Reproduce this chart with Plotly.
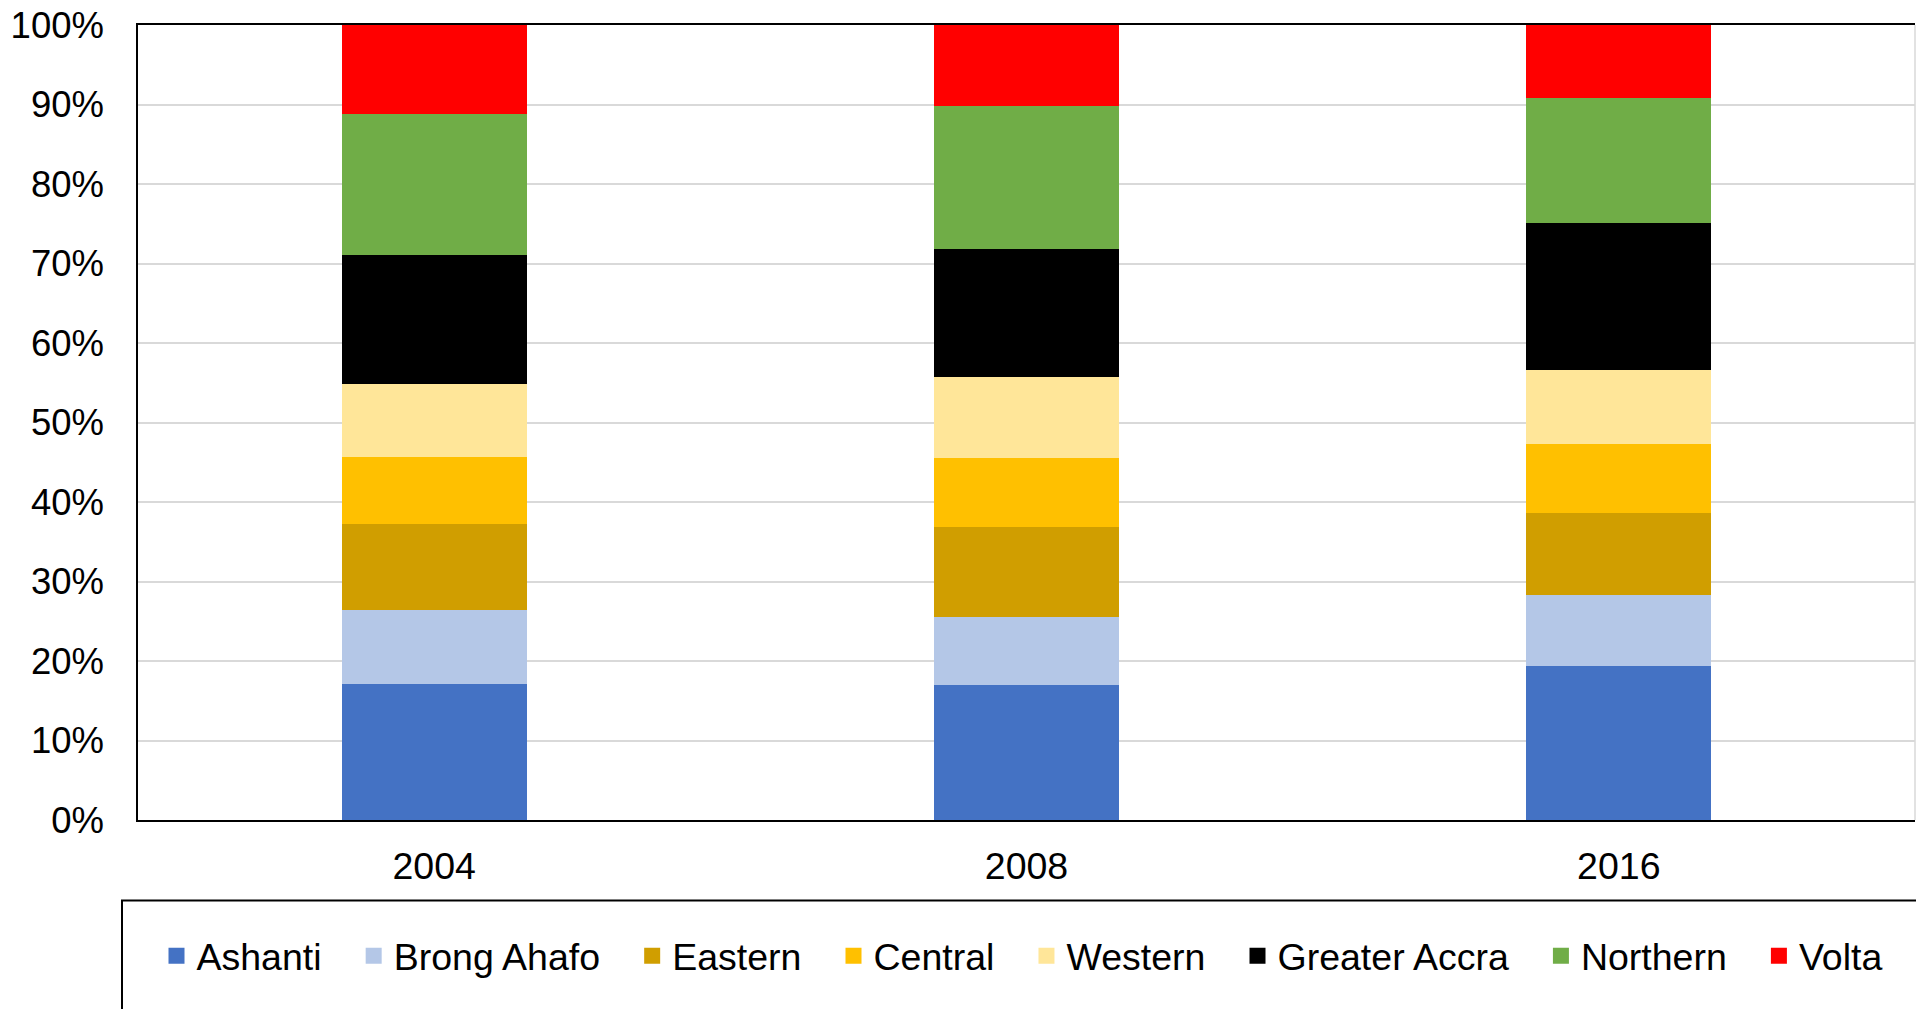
import plotly.graph_objects as go

years = ["2004", "2008", "2016"]
regions = ["Ashanti", "Brong Ahafo", "Eastern", "Central", "Western",
           "Greater Accra", "Northern", "Volta"]
colors = ["#4472C4", "#B4C7E7", "#D09E00", "#FFC000", "#FFE699",
          "#000000", "#70AD47", "#FF0000"]

ashanti = [17.11, 17.02, 19.32]
brong_ahafo = [9.34, 8.55, 8.92]
eastern = [10.80, 11.34, 10.43]
central = [8.42, 8.59, 8.63]
western = [9.13, 10.18, 9.30]
greater_accra = [16.24, 16.20, 18.46]
northern = [17.81, 17.88, 15.79]
volta = [11.15, 10.24, 9.15]

series = [ashanti, brong_ahafo, eastern, central, western,
          greater_accra, northern, volta]

y_ticks = [0, 10, 20, 30, 40, 50, 60, 70, 80, 90, 100]
y_ticktext = [f"{v}%" for v in y_ticks]

FONT = "Liberation Sans, Arial, sans-serif"

fig = go.Figure()
for name, vals, col in zip(regions, series, colors):
    fig.add_trace(go.Bar(
        x=years, y=vals, name=name, marker=dict(color=col, line=dict(width=0)),
        showlegend=False, legendgroup=name,
    ))
for i, (name, col) in enumerate(zip(regions, colors)):
    pad = "" if i == len(regions) - 1 else "\u00a0\u00a0\u2006"
    fig.add_trace(go.Scatter(
        x=[None], y=[None], mode="markers",
        name=name + pad,
        legendgroup=name,
        marker=dict(symbol="square", size=18, color=col, line=dict(width=0)),
        showlegend=True,
    ))

W, H = 1916, 1009
L, R, T = 138, 1, 24.5
BOTTOM = 820.5
B = H - BOTTOM
pw = W - L - R
ph = H - T - B

def px_x(x):
    return (x - L) / pw

def px_y(y):
    return (BOTTOM - y) / ph

fig.update_layout(
    width=W, height=H,
    margin=dict(l=L, r=R, t=T, b=B, pad=0, autoexpand=False),
    barmode="stack", barnorm="percent", bargap=0.6876,
    plot_bgcolor="white", paper_bgcolor="white",
    font=dict(family=FONT, size=36, color="black"),
    legend=dict(
        orientation="h", x=px_x(156.5), y=px_y(956.5),
        xanchor="left", yanchor="middle",
        font=dict(family=FONT, size=37.5, color="black"),
        bgcolor="rgba(0,0,0,0)", borderwidth=0,
        itemsizing="trace", traceorder="normal",
    ),
    xaxis=dict(
        type="category", showline=True, linecolor="black", linewidth=2,
        mirror=True, showgrid=False, ticks="", ticklabelstandoff=12,
        tickfont=dict(family=FONT, size=37.5, color="black"),
    ),
    yaxis=dict(
        range=[0, 100], tickvals=y_ticks, ticktext=y_ticktext,
        showline=True, linecolor="black", linewidth=1.5, mirror=False,
        showgrid=True, gridcolor="#D9D9D9", gridwidth=1.5,
        ticks="", ticklabelstandoff=25, zeroline=False,
        tickfont=dict(family=FONT, size=36.5, color="black"),
    ),
    shapes=[
        dict(type="rect", xref="paper", yref="paper",
             x0=px_x(122), x1=px_x(2000), y0=px_y(901), y1=px_y(1100),
             line=dict(color="black", width=2), fillcolor="rgba(0,0,0,0)",
             layer="above"),
        dict(type="line", xref="paper", yref="paper",
             x0=1, x1=1, y0=0, y1=1,
             line=dict(color="#D9D9D9", width=1.5)),
    ],
)

fig.write_html("out.html",
               config={"displayModeBar": False},
               post_script="document.body.style.margin='0';")
